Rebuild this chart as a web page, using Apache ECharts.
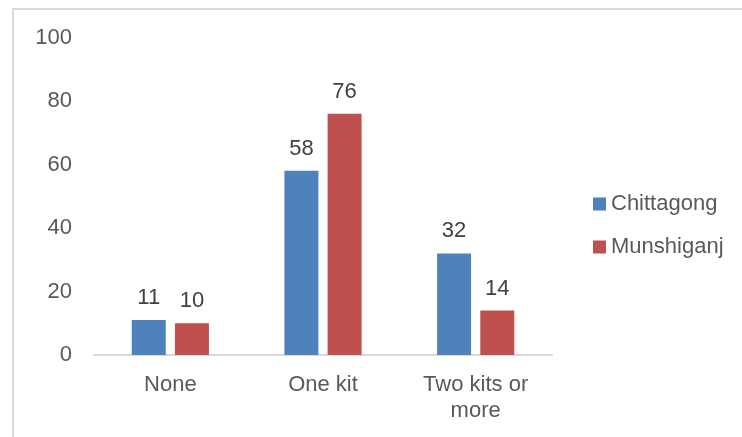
<!DOCTYPE html>
<html><head><meta charset="utf-8">
<script src="https://cdn.jsdelivr.net/npm/echarts@6/dist/echarts.min.js"></script>
<style>
html,body{margin:0;padding:0;background:#fff;}
#frame{position:absolute;left:12px;top:8px;width:800px;height:500px;border-left:2px solid #d9d9d9;border-top:2px solid #d9d9d9;}
#c{position:absolute;left:0;top:0;width:742px;height:437px;}
</style></head>
<body>
<div id="frame"></div>
<div id="c"></div>
<script>
const categories = ['None', 'One kit', 'Two kits or\nmore'];
const chittagong = [11, 58, 32];
const munshiganj = [10, 76, 14];
const yTicks = [0, 20, 40, 60, 80, 100];

const chart = echarts.init(document.getElementById('c'));
const font = 'Liberation Sans, Arial, sans-serif';
chart.setOption({
  animation: false,
  textStyle: {fontFamily: font},
  grid: {left: 94, right: 190, top: 37.5, bottom: 82},
  legend: {
    orient: 'vertical', left: 588, top: 188, itemGap: 21,
    itemWidth: 13, itemHeight: 13, icon: 'rect',
    textStyle: {fontSize: 22, color: '#595959', fontFamily: font, padding: [0, 0, 0, 0]},
    data: ['Chittagong', 'Munshiganj']
  },
  xAxis: {
    type: 'category', data: categories,
    axisLine: {lineStyle: {color: '#d9d9d9', width: 2}},
    axisTick: {show: false},
    axisLabel: {fontSize: 22, color: '#595959', margin: 17, lineHeight: 26, fontFamily: font}
  },
  yAxis: {
    type: 'value', min: yTicks[0], max: yTicks[yTicks.length - 1], interval: 20,
    axisLine: {show: false}, axisTick: {show: false}, splitLine: {show: false},
    axisLabel: {fontSize: 22, color: '#595959', margin: 22, fontFamily: font}
  },
  series: [
    {name: 'Chittagong', type: 'bar', data: chittagong, barWidth: 34, barGap: '27%',
     itemStyle: {color: '#4f81bd'},
     label: {show: true, position: 'top', distance: 11, fontSize: 22, color: '#404040', fontFamily: font}},
    {name: 'Munshiganj', type: 'bar', data: munshiganj, barWidth: 34,
     itemStyle: {color: '#c0504d'},
     label: {show: true, position: 'top', distance: 11, fontSize: 22, color: '#404040', fontFamily: font}}
  ]
});
</script>
</body></html>
